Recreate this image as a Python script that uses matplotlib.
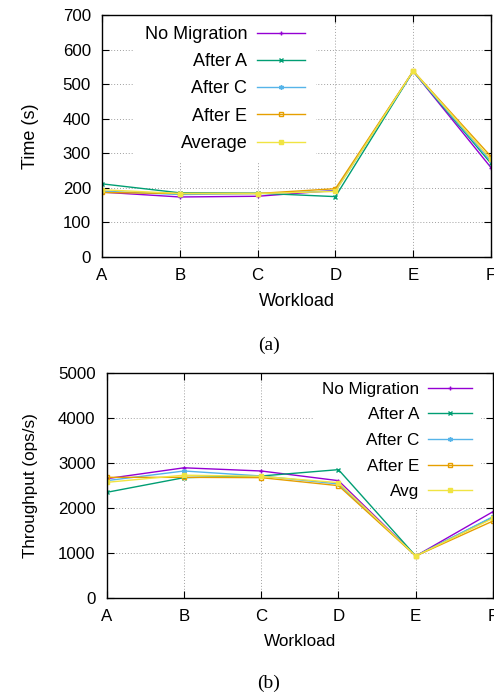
import matplotlib
matplotlib.use("Agg")
import matplotlib.pyplot as plt

workloads = ["A", "B", "C", "D", "E", "F"]

# (a) Time (s)
time_labels = ["No Migration", "After A", "After C", "After E", "Average"]
time_no_migration = [187, 173, 175, 192, 537, 258]
time_after_a = [211, 185, 184, 174, 537, 270]
time_after_c = [190, 180, 183, 190, 537, 276]
time_after_e = [186, 183, 183, 197, 538, 290]
time_average = [194, 183, 183, 189, 538, 282]

# (b) Throughput (ops/s)
thr_labels = ["No Migration", "After A", "After C", "After E", "Avg"]
thr_no_migration = [2658, 2900, 2829, 2614, 940, 1925]
thr_after_a = [2355, 2681, 2718, 2859, 940, 1800]
thr_after_c = [2614, 2829, 2718, 2540, 940, 1814]
thr_after_e = [2688, 2688, 2681, 2503, 940, 1718]
thr_avg = [2577, 2736, 2710, 2570, 940, 1777]

colors = ["#9400d3", "#009e73", "#56b4e9", "#e69f00", "#f0e442"]
markers = ["+", "x", (6, 2, 0), "s", "s"]
mfcs = [None, None, None, "none", None]

plt.rcParams["font.family"] = ["Liberation Sans", "DejaVu Sans"]

fig = plt.figure(figsize=(4.94, 6.93), dpi=100)
W, H = 494, 693

def make_axes(l, r, t, b):
    return fig.add_axes([l / W, 1 - b / H, (r - l) / W, (b - t) / H])

ax1 = make_axes(102, 491, 15, 256.7)
ax2 = make_axes(106.7, 493, 373.3, 598.3)

x = list(range(len(workloads)))

def style(ax, ymax, ystep, ylabel, fs_tick, fs_lab, ylabpad, xlabpad):
    ax.set_xlim(0, len(workloads) - 1)
    ax.set_ylim(0, ymax)
    ax.set_xticks(x)
    ax.set_xticklabels(workloads)
    ax.set_yticks(list(range(0, ymax + 1, ystep)))
    ax.tick_params(direction="in", length=5, width=0.8, top=True, right=True,
                   labelsize=fs_tick, pad=8, colors="black")
    ax.grid(True, linestyle=(0, (1, 2)), color="#a0a0a0", linewidth=0.7)
    ax.set_axisbelow(True)
    for s in ax.spines.values():
        s.set_linewidth(1.0)
        s.set_color("black")
    ax.set_ylabel(ylabel, fontsize=fs_lab, labelpad=ylabpad)
    ax.set_xlabel("Workload", fontsize=fs_lab, labelpad=xlabpad)

series1 = [time_no_migration, time_after_a, time_after_c, time_after_e, time_average]
for vals, lab, c, m, mf in zip(series1, time_labels, colors, markers, mfcs):
    kw = dict(color=c, marker=m, markersize=3.5, linewidth=1.0, label=lab, clip_on=True)
    if mf is not None:
        kw["markerfacecolor"] = mf
    ax1.plot(x, vals, **kw)

series2 = [thr_no_migration, thr_after_a, thr_after_c, thr_after_e, thr_avg]
for vals, lab, c, m, mf in zip(series2, thr_labels, colors, markers, mfcs):
    kw = dict(color=c, marker=m, markersize=3.5, linewidth=1.0, label=lab, clip_on=True)
    if mf is not None:
        kw["markerfacecolor"] = mf
    ax2.plot(x, vals, **kw)

style(ax1, 700, 100, "Time (s)", 12.2, 13, 17, 7)
style(ax2, 5000, 1000, "Throughput (ops/s)", 12.2, 12.3, 14.5, 7)

fs1 = 13
leg1 = ax1.legend(loc="upper right", bbox_to_anchor=((316 - 102) / 389, 1.0),
                  borderaxespad=0, markerfirst=False, fontsize=fs1,
                  handlelength=48 / (fs1 * 100 / 72), handletextpad=0.55,
                  labelspacing=0.57, borderpad=0.6, fancybox=False,
                  frameon=True, facecolor="white", edgecolor="none", framealpha=1)
leg1.set_zorder(1.5)

fs2 = 12.3
leg2 = ax2.legend(loc="upper right", bbox_to_anchor=(1.0 - 12 / 386.3, 1.0),
                  borderaxespad=0, markerfirst=False, fontsize=fs2,
                  handlelength=44 / (fs2 * 100 / 72), handletextpad=0.55,
                  labelspacing=0.62, borderpad=0.5, fancybox=False,
                  frameon=True, facecolor="white", edgecolor="none", framealpha=1)
leg2.set_zorder(1.5)

fig.text(269 / W, 1 - 345.5 / H, "(a)", ha="center", va="center",
         fontsize=14, family=["Liberation Serif", "DejaVu Serif"])
fig.text(269 / W, 1 - 683 / H, "(b)", ha="center", va="center",
         fontsize=14, family=["Liberation Serif", "DejaVu Serif"])

fig.savefig("out.png", dpi=100)
